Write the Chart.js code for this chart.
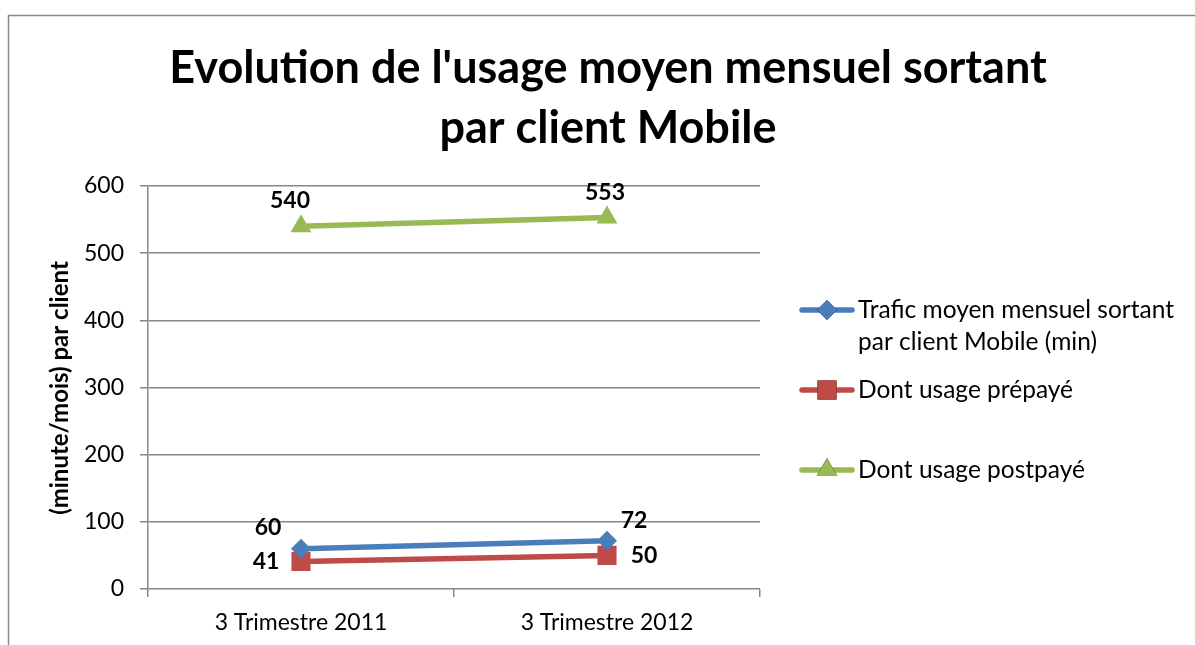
<!DOCTYPE html>
<html>
<head>
<meta charset="utf-8">
<script src="https://cdn.jsdelivr.net/npm/chart.js@4"></script>
<style>
  html, body { margin: 0; padding: 0; background: #fff; }
  #wrap { width: 1195px; height: 645px; }
</style>
</head>
<body>
<div id="wrap"><canvas id="usageChart" width="1195" height="645"></canvas></div>
<script>
// data
const categories = ["3 Trimestre 2011", "3 Trimestre 2012"];
const seriesNames = [
  ["Trafic moyen mensuel sortant", "par client Mobile (min)"],
  ["Dont usage prépayé"],
  ["Dont usage postpayé"]
];
const traficMoyen = [60, 72];
const usagePrepaye = [41, 50];
const usagePostpaye = [540, 553];
const yTicks = [0, 100, 200, 300, 400, 500, 600];

const titleLines = ["Evolution de l'usage moyen mensuel sortant", "par client Mobile"];
const yTitle = "(minute/mois) par client";
const FONT = "Lato, 'Open Sans', sans-serif";

// label offsets per series / point (dx, dy from the point)
const labelOffsets = [
  [[-33, -21], [27, -20]],
  [[-35, 0], [37, 0]],
  [[-11, -26], [-2, -25]]
];

// Legend line positions (y of first text line)
const legendRows = [310, 390, 470];

const decorPlugin = {
  id: "decor",
  beforeDraw(chart) {
    const ctx = chart.ctx;
    ctx.save();
    ctx.fillStyle = "#fff";
    ctx.fillRect(0, 0, chart.width, chart.height);
    // outer frame (top + left visible)
    ctx.strokeStyle = "#888";
    ctx.lineWidth = 1.5;
    ctx.beginPath();
    ctx.moveTo(8.5, chart.height);
    ctx.lineTo(8.5, 15.5);
    ctx.lineTo(chart.width, 15.5);
    ctx.stroke();
    ctx.restore();
  },
  afterDraw(chart) {
    const ctx = chart.ctx;
    ctx.save();
    ctx.fillStyle = "#000";
    ctx.textAlign = "center";
    ctx.textBaseline = "middle";

    // title
    ctx.font = "bold 45px " + FONT;
    ctx.fillText(titleLines[0], 608, 68);
    ctx.fillText(titleLines[1], 608, 128);

    // y axis title
    ctx.save();
    ctx.translate(60, 388);
    ctx.rotate(-Math.PI / 2);
    ctx.font = "bold 24px " + FONT;
    ctx.fillText(yTitle, 0, 0);
    ctx.restore();

    // data labels
    ctx.font = "bold 23px " + FONT;
    chart.data.datasets.forEach((ds, i) => {
      const meta = chart.getDatasetMeta(i);
      meta.data.forEach((pt, j) => {
        const off = labelOffsets[i][j];
        ctx.fillText(String(ds.data[j]), pt.x + off[0], pt.y + off[1]);
      });
    });

    // legend
    ctx.textAlign = "left";
    ctx.font = "24.5px " + FONT;
    chart.data.datasets.forEach((ds, i) => {
      const y = legendRows[i];
      ctx.strokeStyle = ds.borderColor;
      ctx.lineWidth = 5.5;
      ctx.lineCap = "round";
      ctx.beginPath();
      ctx.moveTo(802, y);
      ctx.lineTo(852, y);
      ctx.stroke();
      Chart.helpers.drawPoint(ctx, {
        pointStyle: ds.pointStyle,
        radius: ds.pointRadius,
        borderWidth: 0
      }, 827, y);
      ctx.fillStyle = ds.borderColor;
      ctx.fill();
      ctx.fillStyle = "#000";
      seriesNames[i].forEach((line, k) => {
        ctx.fillText(line, 858, y + k * 32);
      });
    });
    ctx.restore();
  }
};

new Chart(document.getElementById("usageChart"), {
  type: "line",
  data: {
    labels: categories,
    datasets: [
      {
        label: seriesNames[0].join(" "),
        data: traficMoyen,
        borderColor: "#4a7ebb",
        backgroundColor: "#4a7ebb",
        borderWidth: 5.5,
        pointStyle: "rectRot",
        pointRadius: 10,
        pointBorderWidth: 0
      },
      {
        label: seriesNames[1].join(" "),
        data: usagePrepaye,
        borderColor: "#be4b48",
        backgroundColor: "#be4b48",
        borderWidth: 5.5,
        pointStyle: "rect",
        pointRadius: 13.5,
        pointBorderWidth: 0
      },
      {
        label: seriesNames[2].join(" "),
        data: usagePostpaye,
        borderColor: "#98b954",
        backgroundColor: "#98b954",
        borderWidth: 5.5,
        pointStyle: "triangle",
        pointRadius: 12,
        pointBorderWidth: 0
      }
    ]
  },
  options: {
    responsive: false,
    animation: false,
    layout: { padding: { left: 0, right: 435, top: 186, bottom: 0 } },
    plugins: {
      legend: { display: false },
      title: { display: false },
      tooltip: { enabled: false }
    },
    scales: {
      x: {
        offset: true,
        grid: {
          offset: true,
          drawOnChartArea: false,
          drawTicks: true,
          tickLength: 8,
          color: "#868686",
          lineWidth: 1.5
        },
        border: { display: false },
        ticks: {
          color: "#000",
          font: { family: FONT, size: 23 },
          padding: 12,
          maxRotation: 0
        },
        afterFit(scale) { scale.height = 56; }
      },
      y: {
        min: 0,
        max: 600,
        afterBuildTicks(scale) { scale.ticks = yTicks.map(v => ({ value: v })); },
        grid: {
          color: "#868686",
          lineWidth: 1.5,
          tickLength: 8
        },
        border: { color: "#868686", width: 1.5 },
        ticks: {
          color: "#000",
          font: { family: FONT, size: 23 },
          padding: 16
        },
        afterFit(scale) { scale.width = 148; }
      }
    }
  },
  plugins: [decorPlugin]
});
</script>
</body>
</html>
